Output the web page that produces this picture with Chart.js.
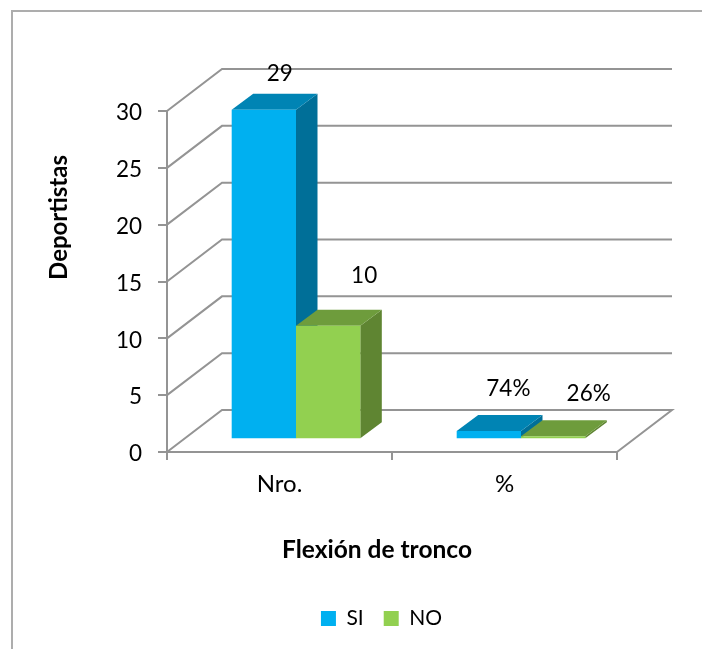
<!DOCTYPE html>
<html>
<head>
<meta charset="utf-8">
<style>
  html, body { margin: 0; padding: 0; background: #fff; }
  #wrap { position: relative; width: 702px; height: 649px; overflow: hidden; }
</style>
<script src="https://cdn.jsdelivr.net/npm/chart.js@4/dist/chart.umd.min.js"></script>
</head>
<body>
<div id="wrap"><canvas id="chart" width="702" height="649"></canvas></div>
<script>
// Values for the trunk-flexion summary
const categories = ['Nro.', '%'];
const siValues = [29, 0.74];
const noValues = [10, 0.26];
const seriesNames = ['SI', 'NO'];
const yTicks = [0, 5, 10, 15, 20, 25, 30];
const xTitle = 'Flexión de tronco';
const yTitle = 'Deportistas';

const FONT = 'Lato, Carlito, Calibri, sans-serif';
const AXIS = '#949494';
const WALL = { dx: 55, dy: -42 };      // oblique offset of the back wall
const INSET = { dx: 16.5, dy: -12.7 }; // bars stand part-way into the floor
const BAR = { dx: 21.5, dy: -16 };     // bar depth

const faces = {
  SI: { front: '#00B0F0', top: '#0084B4', side: '#006F98' },
  NO: { front: '#92D050', top: '#6E9C3C', side: '#5F8532' }
};

// Text for a value label: the % category holds fractions
function labelFor(catIndex, v) {
  return categories[catIndex] === '%' ? Math.round(v * 100) + '%' : String(v);
}

function poly(ctx, pts, fill) {
  ctx.beginPath();
  pts.forEach((p, i) => i ? ctx.lineTo(p[0], p[1]) : ctx.moveTo(p[0], p[1]));
  ctx.closePath();
  ctx.fillStyle = fill;
  ctx.fill();
}

const obliquePlugin = {
  id: 'oblique',
  // Outer frame of the chart object
  beforeDraw(chart) {
    const { ctx } = chart;
    ctx.save();
    ctx.strokeStyle = '#adadad';
    ctx.lineWidth = 2;
    ctx.strokeRect(12, 11, 720, 700);
    ctx.restore();
  },
  beforeDatasetsDraw(chart) {
    const { ctx, scales: { y }, chartArea: a } = chart;
    ctx.save();
    // Back wall gridlines and floor outline
    ctx.strokeStyle = AXIS;
    ctx.lineWidth = 2;
    yTicks.forEach(t => {
      const py = y.getPixelForValue(t);
      ctx.beginPath();
      ctx.moveTo(a.left, py);
      ctx.lineTo(a.left + WALL.dx, py + WALL.dy);
      ctx.lineTo(a.right + WALL.dx, py + WALL.dy);
      if (t === 0) ctx.lineTo(a.right, py);
      ctx.stroke();
    });
    // Top and side faces, series by series; the library paints the front faces over them
    ctx.translate(INSET.dx, INSET.dy);
    chart.data.datasets.forEach((ds, di) => {
      const c = faces[ds.label];
      chart.getDatasetMeta(di).data.forEach(el => {
        const l = el.x - el.width / 2, r = el.x + el.width / 2;
        const t = el.y, b = el.base;
        poly(ctx, [[r, t], [r + BAR.dx, t + BAR.dy], [r + BAR.dx, b + BAR.dy], [r, b]], c.side);
        poly(ctx, [[l, t], [l + BAR.dx, t + BAR.dy], [r + BAR.dx, t + BAR.dy], [r, t]], c.top);
      });
    });
    ctx.restore();
  },
  // Front faces share the inset of the depth faces
  beforeDatasetDraw(chart) {
    chart.ctx.save();
    chart.ctx.translate(INSET.dx, INSET.dy);
  },
  afterDatasetDraw(chart) {
    chart.ctx.restore();
  },
  // Value labels float above each bar's top face
  afterDatasetsDraw(chart, args, opts) {
    const { ctx } = chart;
    ctx.save();
    ctx.fillStyle = '#000';
    ctx.font = '22.5px ' + FONT;
    ctx.textAlign = 'center';
    ctx.textBaseline = 'middle';
    chart.data.datasets.forEach((ds, di) => {
      chart.getDatasetMeta(di).data.forEach((el, i) => {
        const off = opts.labelOffsets[di][i];
        ctx.fillText(labelFor(i, ds.data[i]), el.x + off[0], el.y + off[1]);
      });
    });
    ctx.restore();
  },
  // Legend and axis titles sit off the plot's centre
  afterLayout(chart, args, opts) {
    const lg = chart.legend;
    lg.left += opts.legendShift; lg.right += opts.legendShift;
    const h = lg.bottom - lg.top;
    lg.top = opts.legendTop; lg.bottom = lg.top + h;
    ['x', 'y'].forEach(id => {
      const s = chart.scales[id];
      if (s._titleShifted) return;
      const draw = s.drawTitle;
      s.drawTitle = function () {
        this.ctx.save();
        this.ctx.translate(opts.titleShift[id][0], opts.titleShift[id][1]);
        draw.call(this);
        this.ctx.restore();
      };
      s._titleShifted = true;
    });
  }
};

new Chart(document.getElementById('chart'), {
  type: 'bar',
  data: {
    labels: categories,
    datasets: [
      { label: seriesNames[0], data: siValues, backgroundColor: faces.SI.front, clip: false },
      { label: seriesNames[1], data: noValues, backgroundColor: faces.NO.front, clip: false }
    ]
  },
  plugins: [obliquePlugin],
  options: {
    responsive: false,
    animation: false,
    events: [],
    layout: { padding: { top: 111, right: 85, left: 0, bottom: 33 } },
    datasets: { bar: { categoryPercentage: 0.5716, barPercentage: 1 } },
    plugins: {
      tooltip: { enabled: false },
      title: { display: false },
      legend: {
        position: 'bottom',
        onClick: null,
        labels: {
          boxWidth: 15, boxHeight: 15, padding: 20,
          color: '#000', font: { family: FONT, size: 21 }
        }
      },
      oblique: {
        legendShift: 73,
        legendTop: 588,
        titleShift: { x: [-15, 0], y: [-2, -64] },
        labelOffsets: [[[32.5, -49], [36, -55]], [[52.5, -63], [52, -55]]]
      }
    },
    scales: {
      x: {
        afterFit(s) { s.height = 113; },
        border: { color: AXIS, width: 2 },
        grid: { drawOnChartArea: false, color: AXIS, lineWidth: 2, tickLength: 8, offset: true },
        ticks: { color: '#000', font: { family: FONT, size: 24 }, padding: 10, maxRotation: 0 },
        title: {
          display: true, text: xTitle, color: '#000',
          font: { family: FONT, size: 24.5, weight: 'bold' },
          padding: { top: 10, bottom: 0 }
        }
      },
      y: {
        min: 0, max: 30,
        afterFit(s) { s.width = 167; },
        afterBuildTicks(s) { s.ticks = yTicks.map(value => ({ value })); },
        border: { color: AXIS, width: 2 },
        grid: { drawOnChartArea: false, color: AXIS, lineWidth: 2, tickLength: 9 },
        ticks: { color: '#000', font: { family: FONT, size: 22.5 }, padding: 16, labelOffset: 2 },
        title: {
          display: true, text: yTitle, color: '#000',
          font: { family: FONT, size: 24, weight: 'bold' },
          padding: { top: 47, bottom: 0 }
        }
      }
    }
  }
});
</script>
</body>
</html>
